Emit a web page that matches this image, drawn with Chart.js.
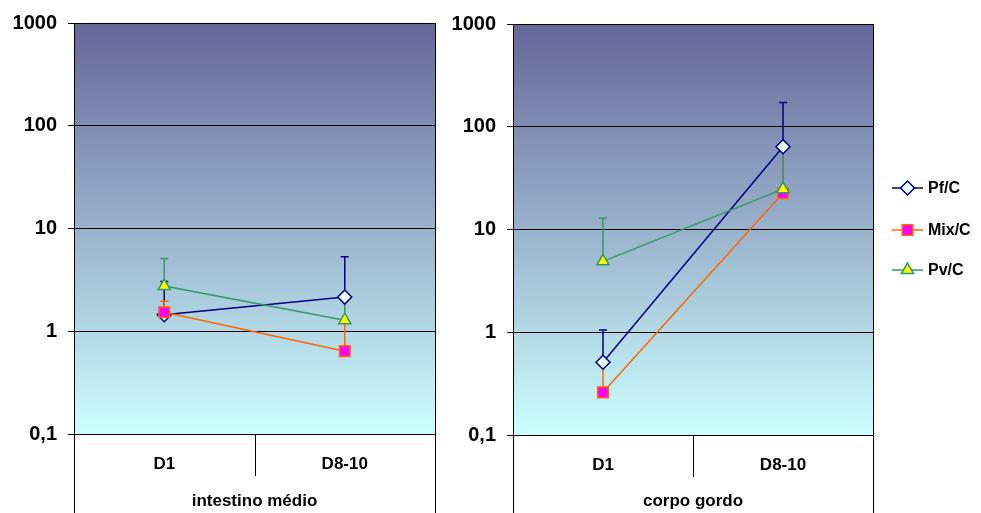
<!DOCTYPE html>
<html>
<head>
<meta charset="utf-8">
<script src="https://cdn.jsdelivr.net/npm/chart.js@4.4.1/dist/chart.umd.min.js"></script>
<style>
  body { margin: 0; background: #fff; }
  canvas { position: absolute; top: 0; }
  #left { left: 0; }
  #right { left: 440px; }
</style>
</head>
<body>
<canvas id="left" width="450" height="513"></canvas>
<canvas id="right" width="541" height="513"></canvas>
<script>
const categories = ['D1', 'D8-10'];
const yTicks = [0.1, 1, 10, 100, 1000];
const seriesNames = ['Pf/C', 'Mix/C', 'Pv/C'];

// intestino médio
const midgutPf = [1.45, 2.15];
const midgutPfErr = [3.05, 5.3];
const midgutMix = [1.53, 0.64];
const midgutMixErr = [1.96, 1.2];
const midgutPv = [2.75, 1.28];
const midgutPvErr = [5.1, 2.0];

// corpo gordo
const fatPf = [0.51, 64];
const fatPfErr = [1.05, 172];
const fatMix = [0.26, 22.6];
const fatMixErr = [0.5, 60];
const fatPv = [4.9, 24.7];
const fatPvErr = [12.9, 62];

Chart.defaults.font.family = 'Arial, "Liberation Sans", sans-serif';
Chart.defaults.color = '#000';

const looks = [
  { line: '#000080', fill: '#eaffff', shape: 'rectRot', r: 7 },
  { line: '#ff6600', fill: '#ff00ff', shape: 'rect', r: 7.5 },
  { line: '#339966', fill: '#ffff00', shape: 'triangle', r: 7 }
];

function makeSets(vals, errs) {
  return vals.map((v, i) => ({
    label: seriesNames[i],
    data: v,
    errUpper: errs[i],
    order: vals.length - i, // later series on top, like the original
    borderColor: looks[i].line,
    backgroundColor: looks[i].fill,
    borderWidth: 1.5,
    pointStyle: looks[i].shape,
    pointRadius: looks[i].r,
    pointHoverRadius: looks[i].r,
    pointBackgroundColor: looks[i].fill,
    pointBorderColor: looks[i].line,
    pointBorderWidth: 1.5,
    tension: 0
  }));
}

// background, error bars, frame and legend
const decor = {
  id: 'decor',
  beforeDraw(chart) {
    const { ctx, chartArea: a } = chart;
    const g = ctx.createLinearGradient(0, a.top, 0, a.bottom);
    g.addColorStop(0, '#666699');
    g.addColorStop(1, '#ccffff');
    ctx.save();
    ctx.fillStyle = g;
    ctx.fillRect(a.left, a.top, a.right - a.left, a.bottom - a.top);
    ctx.restore();
  },
  beforeDatasetsDraw(chart) {
    const { ctx } = chart;
    const ys = chart.scales.y;
    ctx.save();
    chart.data.datasets.forEach((ds, i) => {
      const meta = chart.getDatasetMeta(i);
      ctx.strokeStyle = ds.borderColor;
      ctx.lineWidth = 1.5;
      meta.data.forEach((pt, j) => {
        const top = ys.getPixelForValue(ds.errUpper[j]);
        ctx.beginPath();
        ctx.moveTo(pt.x, pt.y);
        ctx.lineTo(pt.x, top);
        ctx.moveTo(pt.x - 4, top);
        ctx.lineTo(pt.x + 4, top);
        ctx.stroke();
      });
    });
    ctx.restore();
  },
  afterDraw(chart, args, opts) {
    const { ctx, chartArea: a } = chart;
    const xs = chart.scales.x;
    const mid = (xs.getPixelForValue(0) + xs.getPixelForValue(1)) / 2;
    ctx.save();
    ctx.strokeStyle = '#000';
    ctx.lineWidth = 1;
    ctx.strokeRect(a.left + 0.5, a.top + 0.5, a.right - a.left, a.bottom - a.top);
    ctx.beginPath();
    ctx.moveTo(a.left + 0.5, a.bottom);
    ctx.lineTo(a.left + 0.5, chart.height);
    ctx.moveTo(a.right + 0.5, a.bottom);
    ctx.lineTo(a.right + 0.5, chart.height);
    ctx.moveTo(Math.round(mid) + 0.5, a.bottom);
    ctx.lineTo(Math.round(mid) + 0.5, a.bottom + 42);
    ctx.stroke();

    if (opts.legend) {
      const lg = opts.legend;
      ctx.font = 'bold 16px Arial, "Liberation Sans", sans-serif';
      ctx.textBaseline = 'middle';
      chart.data.datasets.forEach((ds, i) => {
        const y = lg.y[i];
        ctx.strokeStyle = ds.borderColor;
        ctx.lineWidth = 1.5;
        ctx.beginPath();
        ctx.moveTo(lg.x, y);
        ctx.lineTo(lg.x + 31, y);
        ctx.stroke();
        ctx.fillStyle = ds.pointBackgroundColor;
        Chart.helpers.drawPoint(ctx, {
          pointStyle: ds.pointStyle, radius: ds.pointRadius, borderWidth: 1.5, rotation: 0
        }, lg.x + 15.5, y);
        ctx.fillStyle = '#000';
        ctx.fillText(ds.label, lg.x + 36, y + 1);
      });
    }
    ctx.restore();
  }
};

function makeChart(id, title, sets, pad, yWidth, xHeight, legend) {
  return new Chart(document.getElementById(id), {
    type: 'line',
    data: { labels: categories, datasets: sets },
    plugins: [decor],
    options: {
      responsive: false,
      animation: false,
      events: [],
      layout: { padding: pad },
      plugins: {
        legend: { display: false },
        tooltip: { enabled: false },
        decor: { legend: legend }
      },
      scales: {
        x: {
          type: 'category',
          offset: true,
          grid: { display: false, drawTicks: false },
          border: { display: false },
          ticks: { color: '#000', font: { size: 17, weight: 'bold' }, padding: 20, maxRotation: 0 },
          title: {
            display: true, text: title, color: '#000',
            font: { size: 17, weight: 'bold' }, padding: { top: 0, bottom: 1 }
          },
          afterFit: s => { s.height = xHeight; }
        },
        y: {
          type: 'logarithmic',
          min: 0.1,
          max: 1000,
          afterBuildTicks: s => { s.ticks = yTicks.map(v => ({ value: v })); },
          afterFit: s => { s.width = yWidth; },
          grid: { color: '#000', lineWidth: 1, tickLength: 6, drawTicks: true },
          border: { color: '#000' },
          ticks: {
            color: '#000', autoSkip: false, padding: 11,
            font: { size: 20, weight: 'bold' },
            callback: v => String(v).replace('.', ',')
          }
        }
      }
    }
  });
}

makeChart('left', 'intestino médio',
  makeSets([midgutPf, midgutMix, midgutPv], [midgutPfErr, midgutMixErr, midgutPvErr]),
  { left: 0, top: 23, right: 15, bottom: 0 }, 74, 79, null);

makeChart('right', 'corpo gordo',
  makeSets([fatPf, fatMix, fatPv], [fatPfErr, fatMixErr, fatPvErr]),
  { left: 0, top: 24, right: 108, bottom: 0 }, 73, 78, { x: 452, y: [188, 230, 270] });
</script>
</body>
</html>
